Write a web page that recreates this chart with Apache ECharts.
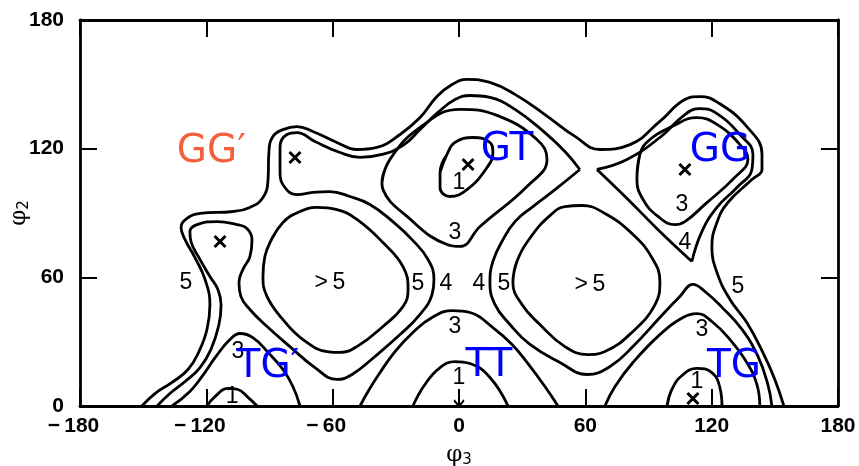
<!DOCTYPE html>
<html><head><meta charset="utf-8">
<script src="https://cdn.jsdelivr.net/npm/echarts@6/dist/echarts.min.js"></script>
<style>html,body{margin:0;padding:0;background:#fff}#c{width:859px;height:466px}</style>
</head><body><div id="c"></div>
<script>
// axis values
const xTickValues = [-180, -120, -60, 0, 60, 120, 180];
const yTickValues = [0, 60, 120, 180];

// contour lines, points are [phi3, phi2] in degrees
const c5Outer = [[-150.6,0],[-144.4,5.8],[-136.3,11.0],[-128.7,17.0],[-123.5,25.4],[-119.7,35.7],[-118.3,47.3],[-120.6,59.0],[-125.4,69.2],[-130.1,77.6],[-132.0,83.2],[-128.7,87.9],[-123.0,89.8],[-107.3,90.7],[-99.3,92.6],[-93.1,97.2],[-90.7,105.6],[-90.3,118.2],[-88.4,125.7],[-83.6,128.9],[-77.0,130.3],[-69.4,128.0],[-58.0,122.9],[-48.5,119.6],[-39.0,120.6],[-28.0,126.6],[-18.5,134.5],[-10.5,144.3],[-3.3,149.9],[3.8,152.3],[14.7,150.9],[26.6,145.3],[40.8,135.9],[55.1,125.7],[66.9,119.6],[81.2,121.9],[95.4,132.7],[107.3,142.9],[114.4,144.3],[123.0,141.5],[136.7,130.3],[143.9,117.3],[143.9,110.3],[139.1,105.6],[127.7,94.9],[122.5,85.6],[120.1,74.4],[122.5,62.3],[128.7,49.7],[136.7,38.9],[144.3,25.0],[150.0,12.4],[154.3,0]];
const c4MainA = [[-143.4,0],[-137.3,5.8],[-130.1,11.4],[-123.0,17.9],[-117.8,26.4],[-114.0,38.0],[-113.0,47.3],[-114.5,54.3],[-118.3,60.4],[-123.5,69.2],[-127.3,76.7],[-127.8,81.4],[-124.4,84.6],[-114.9,86.0],[-105.4,84.6],[-100.7,82.8],[-98.3,77.6],[-99.3,69.7],[-102.6,63.7],[-104.5,57.6],[-103.6,51.1],[-99.3,45.0],[-92.2,38.0],[-80.3,27.7],[-68.4,17.9],[-58.0,12.4],[-50.8,14.7],[-39.9,23.1],[-28.0,33.3],[-18.5,42.7],[-12.8,52.0],[-11.9,59.0],[-14.7,68.3],[-22.3,77.6],[-31.4,86.0],[-42.3,94.0],[-51.8,97.7],[-61.3,100.0],[-69.4,99.6],[-77.0,98.6],[-82.7,101.9],[-85.0,108.9],[-85.0,121.0],[-81.7,126.6],[-77.0,127.5],[-68.4,123.3],[-56.5,118.2],[-47.0,115.9],[-36.6,117.3],[-26.6,121.5],[-18.5,128.9],[-10.0,136.9],[-1.9,142.9],[5.2,144.8],[14.7,143.9],[26.6,138.3],[40.8,127.5],[50.3,118.7],[57.4,110.3]];
const c4MainB = [[57.4,110.3],[45.6,100.9],[35.1,93.0],[26.6,86.0],[20.9,77.6],[16.1,67.4],[14.7,57.6],[17.1,47.3],[24.2,38.0],[33.7,28.7],[47.9,20.3],[60.8,14.7],[71.7,18.4],[82.6,27.7],[95.4,41.3],[104.9,51.1],[111.1,56.7],[116.8,53.4],[124.9,46.0],[134.4,35.7],[142.0,23.1],[146.7,10.0],[148.6,0]];
const c4GGTop = [[65.5,110.3],[79.8,115.0],[95.4,125.2],[107.3,135.9],[114.4,138.7],[121.6,136.9],[133.4,126.6],[139.6,117.3],[139.1,110.3],[132.0,101.9],[122.5,92.6],[115.4,81.4],[110.6,67.4]];
const c4GGArm = [[110.6,67.4],[95.4,81.4],[79.8,96.8],[65.5,110.3]];
const c3GG = [[84.5,105.6],[85.9,117.3],[90.7,124.3],[101.1,130.3],[113.0,134.5],[122.5,131.3],[133.4,121.9],[137.2,115.0],[131.0,106.6],[116.8,94.0],[107.3,86.0],[102.6,84.6],[94.5,88.4],[87.4,96.3]];
const c3GT = [[-36.6,104.2],[-32.8,115.0],[-18.5,129.9],[0.5,138.3],[18.0,135.5],[37.0,124.3],[41.8,115.0],[32.3,102.4],[10.0,83.7],[0.5,74.4],[-5.7,75.3],[-24.7,88.4],[-36.1,100.9]];
const c1GT = [[-9.0,108.9],[-5.7,117.3],[-1.9,122.9],[6.6,125.2],[14.7,122.9],[16.1,118.2],[13.3,111.2],[3.8,100.9],[-4.3,97.7],[-9.0,101.9]];
const c5DiamondL = [[-92.2,69.7],[-89.8,76.2],[-83.6,85.6],[-75.5,90.7],[-67.5,92.6],[-58.0,91.6],[-48.5,87.0],[-36.1,76.2],[-26.6,65.0],[-24.2,54.3],[-26.6,46.4],[-36.1,37.1],[-48.5,27.7],[-56.5,25.0],[-62.7,25.4],[-74.1,31.0],[-83.6,40.3],[-91.2,51.1],[-93.1,60.4]];
const c5DiamondR = [[25.6,57.6],[27.5,67.4],[34.6,79.5],[43.2,88.8],[50.3,93.0],[58.4,93.5],[69.3,89.8],[82.1,80.5],[91.6,69.2],[95.4,58.1],[93.1,47.3],[82.1,34.3],[69.3,25.4],[61.2,24.0],[50.3,27.7],[38.4,38.0],[29.9,47.3]];
const c3TT = [[-47.0,0],[-43.2,6.8],[-37.5,15.6],[-30.4,25.4],[-21.9,34.3],[-12.8,41.3],[-2.9,44.5],[5.2,43.6],[16.1,36.6],[25.2,28.7],[32.3,20.3],[40.8,9.1],[47.0,0]];
const c1TT = [[-21.9,0],[-16.2,10.0],[-9.0,17.9],[-1.9,20.7],[5.2,19.8],[14.7,13.3],[23.3,0]];
const c3TG = [[69.3,0],[74.1,9.1],[82.6,20.3],[95.4,33.3],[106.4,41.3],[113.0,43.1],[120.1,39.4],[128.7,31.0],[136.7,20.3],[141.5,10.0],[142.9,0]];
const c1TG = [[98.8,0],[101.1,7.7],[105.9,14.2],[113.0,17.5],[120.1,15.6],[123.9,8.6],[124.9,0]];
const c3TGp = [[-136.3,0],[-127.8,6.8],[-122.1,13.7],[-115.4,23.1],[-108.8,31.0],[-104.0,33.8],[-97.9,31.9],[-90.7,25.0],[-83.6,17.0],[-78.9,9.1],[-75.5,0]];
const c1TGp = [[-119.7,0],[-115.9,4.4],[-109.7,8.2],[-105.0,7.7],[-100.2,4.0],[-95.9,0]];

// contour value labels [text, phi3, phi2]
const levelLabels = [['5',-129.7,57.6],['>\u20095',-61.3,57.6],['5',-19.5,57.1],['4',-6.2,57.1],['4',9.5,57.1],['5',21.3,57.1],['>\u20095',62.2,56.7],['5',132.5,55.7],['3',-1.9,80.9],['1',0,104.2],['3',105.9,94.0],['4',107.3,76.2],['3',-1.9,37.1],['1',0,13.3],['3',115.4,35.7],['1',113.0,11.4],['3',-105.0,25.4],['1',-107.8,4.4]];
// minima marked with crosses [phi3, phi2]
const minimaPoints = [[-77.9,115.9],[-113.5,76.7],[4.3,112.6],[107.3,110.3],[111.1,3.5]];
// arrow at TT [phi3, phi2]
const arrowPoints = [[0,3.6]];
// conformer names [text, phi3, phi2]
const conformerNames = [['GG′',-117.6,118.7],['GT',22.8,119.6],['GG',123.9,119.1],['TG′',-90.7,18.4],['TT',14.2,18.9],['TG',130.6,18.4]];
const conformerColors = ['#f5603c','#0000ff','#0000ff','#0000ff','#0000ff','#0000ff'];

const chart = echarts.init(document.getElementById('c'), null, {renderer: 'canvas'});

function contour(data, closed) {
  const d = closed ? data.concat([data[0], data[1]]) : data;
  return {
    type: 'line', data: d, smooth: 0.45, symbol: 'none', silent: true,
    lineStyle: {color: '#000', width: 2.8, opacity: 1}, z: 2, animation: false
  };
}

const tickFont = {fontFamily: 'Liberation Sans', fontSize: 21, fontWeight: 'bold', color: '#000'};
const frameLine = {show: true, onZero: false, lineStyle: {color: '#000', width: 2.8}};
const frameTick = {show: true, inside: true, length: 17, lineStyle: {color: '#000', width: 2}};
const hidden = {color: 'rgba(0,0,0,0)', opacity: 1};

const series = [
  contour(c5Outer, false), contour(c4MainA, false), contour(c4MainB, false),
  contour(c4GGTop, false), contour(c4GGArm, false), contour(c3GG, true),
  contour(c3GT, true), contour(c1GT, true), contour(c5DiamondL, true), contour(c5DiamondR, true),
  contour(c3TT, false), contour(c1TT, false), contour(c3TG, false), contour(c1TG, false),
  contour(c3TGp, false), contour(c1TGp, false),
  {
    type: 'scatter', silent: true, z: 3, animation: false,
    symbolSize: 1, itemStyle: hidden,
    data: levelLabels.map(l => ({name: l[0], value: [l[1], l[2]]})),
    label: {show: true, position: 'inside', formatter: '{b}', fontFamily: 'Liberation Sans', fontSize: 23, color: '#000', opacity: 1}
  },
  {
    type: 'scatter', silent: true, z: 3, animation: false,
    symbol: 'path://M0,0L10,10M10,0L0,10', symbolSize: 11,
    itemStyle: {color: 'rgba(0,0,0,0)', borderColor: '#000', borderWidth: 3, opacity: 1},
    data: minimaPoints
  },
  {
    type: 'scatter', silent: true, z: 3, animation: false,
    symbol: 'path://M5,0L5,16M1,10L5,16L9,10', symbolSize: [10, 16],
    itemStyle: {color: 'rgba(0,0,0,0)', borderColor: '#000', borderWidth: 2, opacity: 1},
    data: arrowPoints
  },
  {
    type: 'scatter', silent: true, z: 5, animation: false,
    symbolSize: 1, itemStyle: hidden,
    data: conformerNames.map((c, i) => ({name: c[0], value: [c[1], c[2]],
      label: {color: conformerColors[i]}})),
    label: {show: true, position: 'inside', formatter: '{b}', fontFamily: 'DejaVu Sans', fontSize: 39, opacity: 1}
  }
];

const nameRich = {
  a: {fontFamily: 'DejaVu Serif', fontSize: 23, color: '#000'},
  b: {fontFamily: 'DejaVu Sans', fontSize: 15, color: '#000', verticalAlign: 'bottom', padding: [10, 0, 0, 0]}
};

chart.setOption({
  animation: false,
  backgroundColor: '#fff',
  grid: {left: 80, right: 21, top: 20, bottom: 60, containLabel: false, outerBoundsMode: 'none'},
  xAxis: [{
    type: 'value', position: 'bottom', min: -180, max: 180, interval: 60,
    axisLine: frameLine, axisTick: frameTick, splitLine: {show: false},
    axisLabel: Object.assign({}, tickFont, {
      margin: 10, showMinLabel: true, showMaxLabel: true,
      formatter: v => v < 0 ? '{n|\u2212\u2009' + (-v) + '}' : String(v),
      rich: {n: Object.assign({}, tickFont, {padding: [0, 13, 0, 0]})}
    }),
    name: '{a|φ}{b|3}', nameLocation: 'middle', nameGap: 37, nameMoveOverlap: false,
    nameTextStyle: {rich: nameRich}
  }, {
    type: 'value', position: 'top', min: -180, max: 180, interval: 60,
    axisLine: frameLine, axisTick: frameTick, axisLabel: {show: false}, splitLine: {show: false}
  }],
  yAxis: [{
    type: 'value', position: 'left', min: 0, max: 180, interval: 60,
    axisLine: frameLine, axisTick: frameTick, splitLine: {show: false},
    axisLabel: Object.assign({}, tickFont, {margin: 16, showMinLabel: true, showMaxLabel: true}),
    name: '{a|φ}{b|2}', nameLocation: 'middle', nameGap: 48, nameRotate: 90, nameMoveOverlap: false,
    nameTextStyle: {rich: nameRich}
  }, {
    type: 'value', position: 'right', min: 0, max: 180, interval: 60,
    axisLine: frameLine, axisTick: frameTick, axisLabel: {show: false}, splitLine: {show: false}
  }],
  series: series
});
</script>
</body></html>
